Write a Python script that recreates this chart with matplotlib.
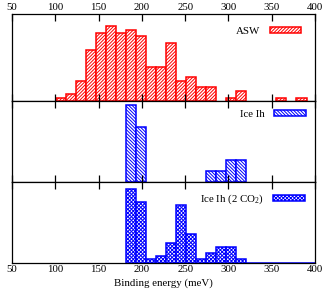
import numpy as np
import matplotlib
matplotlib.use("Agg")
import matplotlib.pyplot as plt

plt.rcParams['font.family'] = ['Liberation Serif', 'DejaVu Serif']
plt.rcParams['mathtext.fontset'] = 'custom'
plt.rcParams['mathtext.rm'] = 'Liberation Serif'
plt.rcParams['mathtext.default'] = 'regular'
plt.rcParams['hatch.linewidth'] = 0.7

# histogram bins (meV)
bin_start = 100.3
bin_width = 11.6
n_bins = 26
edges = bin_start + bin_width * np.arange(n_bins)

# counts per bin
asw = [1, 2, 6, 15, 20, 22, 20, 21, 19, 10, 10, 17, 6, 7, 4, 4, 0, 1, 3, 0, 0, 0, 1, 0, 1, 0]
ice = [0, 0, 0, 0, 0, 0, 0, 7, 5, 0, 0, 0, 0, 0, 0, 1, 1, 2, 2, 0, 0, 0, 0, 0, 0, 0]
ice2 = [0, 0, 0, 0, 0, 0, 0, 23, 19, 1, 2, 6, 18, 9, 1, 3, 5, 5, 1, 0, 0, 0, 0, 0, 0, 0]

panels = [
    (asw, 'ASW', 'red', '/' * 10, 25.7, False, 0.85),
    (ice, 'Ice Ih', 'blue', '\\' * 10, 7.4, False, 0.45),
    (ice2, 'Ice Ih (2 CO$_2$)', 'blue', 'x' * 9, 25.1, True, 0.55),
]

fig = plt.figure(figsize=(3.27, 2.96), dpi=100)
bounds = [0.954, 0.659, 0.384, 0.1125]
xticks = [50, 100, 150, 200, 250, 300, 350, 400]
fs = 7.8

for i, (vals, label, color, hatch, ytop, keep_zero, lpad) in enumerate(panels):
    ax = fig.add_axes([0.037, bounds[i + 1], 0.926, bounds[i] - bounds[i + 1]])
    vals = np.array(vals)
    if keep_zero:
        mask = edges >= 181
    else:
        mask = vals > 0
    ax.bar(edges[mask], vals[mask], width=bin_width, align='edge',
           facecolor='white', edgecolor=color, hatch=hatch, linewidth=1.1,
           label=label)
    ax.set_xlim(50, 400)
    ax.set_ylim(0, ytop)
    ax.set_yticks([])
    ax.set_xticks(xticks)
    ax.tick_params(axis='x', direction='in', length=5, width=0.9,
                   top=True, bottom=(i < 2), labelsize=fs, pad=1.5,
                   labeltop=(i == 0), labelbottom=(i == 2))
    for s in ax.spines.values():
        s.set_linewidth(0.9)
    ax.legend(loc='upper right', frameon=False, markerfirst=False,
              fontsize=fs, handlelength=2.9, handleheight=0.5,
              handletextpad=0.9, borderaxespad=lpad, borderpad=0.4)
    if i == 2:
        ax.set_xlabel('Binding energy (meV)', fontsize=fs, labelpad=3)

fig.savefig('out.png', dpi=100)
